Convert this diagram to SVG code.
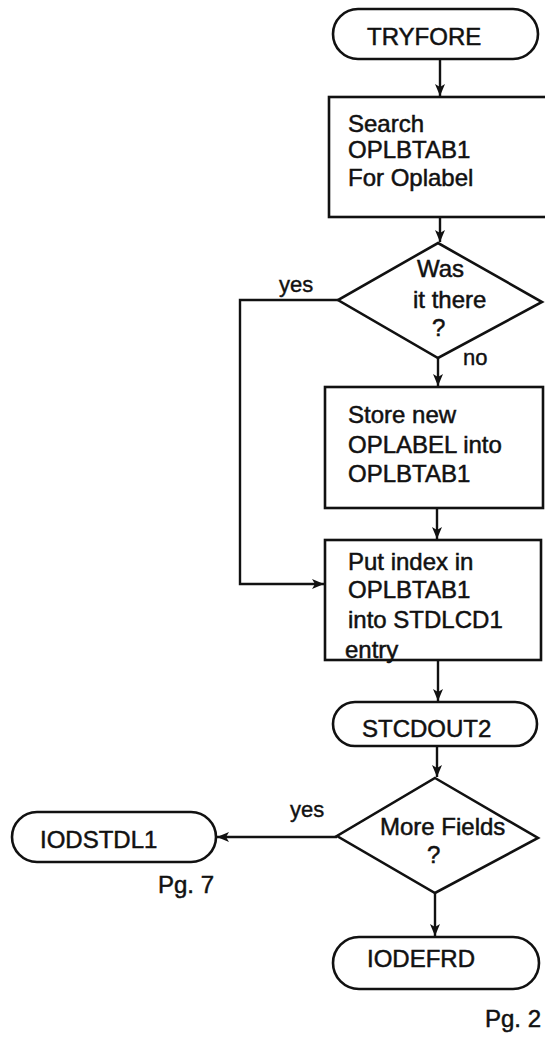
<svg xmlns="http://www.w3.org/2000/svg" width="545" height="1038" viewBox="0 0 545 1038">
<style>
.s{fill:none;stroke:#111;stroke-width:2.6}
.t{font-family:"Liberation Sans",Arial,sans-serif;font-size:24px;fill:#111;stroke:#111;stroke-width:0.5}
.l{font-family:"Liberation Sans",Arial,sans-serif;font-size:22px;fill:#111;stroke:#111;stroke-width:0.4}
.c{fill:none;stroke:#111;stroke-width:2.4}
</style>
<defs>
<marker id="ah" markerWidth="12" markerHeight="10" refX="12" refY="5" orient="auto" markerUnits="userSpaceOnUse">
<path d="M0,0 L12,5 L0,10 L3,5 Z" fill="#111"/>
</marker>
</defs>
<rect width="545" height="1038" fill="#fff"/>
<g id="connectors">
<path class="c" d="M440,59 V96" marker-end="url(#ah)"/>
<path class="c" d="M440,217 V242" marker-end="url(#ah)"/>
<path class="c" d="M438,358 V386" marker-end="url(#ah)"/>
<path class="c" d="M437,508 V539" marker-end="url(#ah)"/>
<path class="c" d="M338,300 H240 V584 H324" marker-end="url(#ah)"/>
<path class="c" d="M438,660 V701" marker-end="url(#ah)"/>
<path class="c" d="M437,746 V777" marker-end="url(#ah)"/>
<path class="c" d="M337,837 H217" marker-end="url(#ah)"/>
<path class="c" d="M435,893 V936" marker-end="url(#ah)"/>
<text class="l" x="279" y="292">yes</text>
<text class="l" x="463" y="365">no</text>
<text class="l" x="290" y="817">yes</text>
</g>
<g id="tryfore">
<rect class="s" x="333" y="9" width="205" height="50" rx="25"/>
<text class="t" x="367" y="45">TRYFORE</text>
</g>
<g id="search">
<rect class="s" x="329" y="97" width="222" height="120"/>
<text class="t" x="348" y="132">Search</text>
<text class="t" x="348" y="158">OPLBTAB1</text>
<text class="t" x="348" y="186">For Oplabel</text>
</g>
<g id="wasthere">
<polygon class="s" points="438,243 542,302 438,358 338,300"/>
<text class="t" x="417" y="277">Was</text>
<text class="t" x="413" y="308">it there</text>
<text class="t" x="432" y="336">?</text>
</g>
<g id="store">
<rect class="s" x="325" y="387" width="218" height="121"/>
<text class="t" x="348" y="423">Store new</text>
<text class="t" x="348" y="453">OPLABEL into</text>
<text class="t" x="348" y="482">OPLBTAB1</text>
</g>
<g id="putindex">
<rect class="s" x="325" y="540" width="216" height="120"/>
<text class="t" x="348" y="570">Put index in</text>
<text class="t" x="348" y="598">OPLBTAB1</text>
<text class="t" x="348" y="628">into STDLCD1</text>
<text class="t" x="345" y="658">entry</text>
</g>
<g id="stcdout2">
<rect class="s" x="333" y="702" width="204" height="44" rx="22"/>
<text class="t" x="362" y="737">STCDOUT2</text>
</g>
<g id="morefields">
<polygon class="s" points="435,778 538,838 435,893 337,836"/>
<text class="t" x="380" y="835">More Fields</text>
<text class="t" x="427" y="863">?</text>
</g>
<g id="iodstdl1">
<rect class="s" x="12" y="812" width="204" height="50" rx="25"/>
<text class="t" x="40" y="848">IODSTDL1</text>
<text class="t" x="158" y="893">Pg. 7</text>
</g>
<g id="iodefrd">
<rect class="s" x="333" y="937" width="206" height="52" rx="26"/>
<text class="t" x="367" y="967">IODEFRD</text>
</g>
<text class="t" x="485" y="1027">Pg. 2</text>
</svg>
